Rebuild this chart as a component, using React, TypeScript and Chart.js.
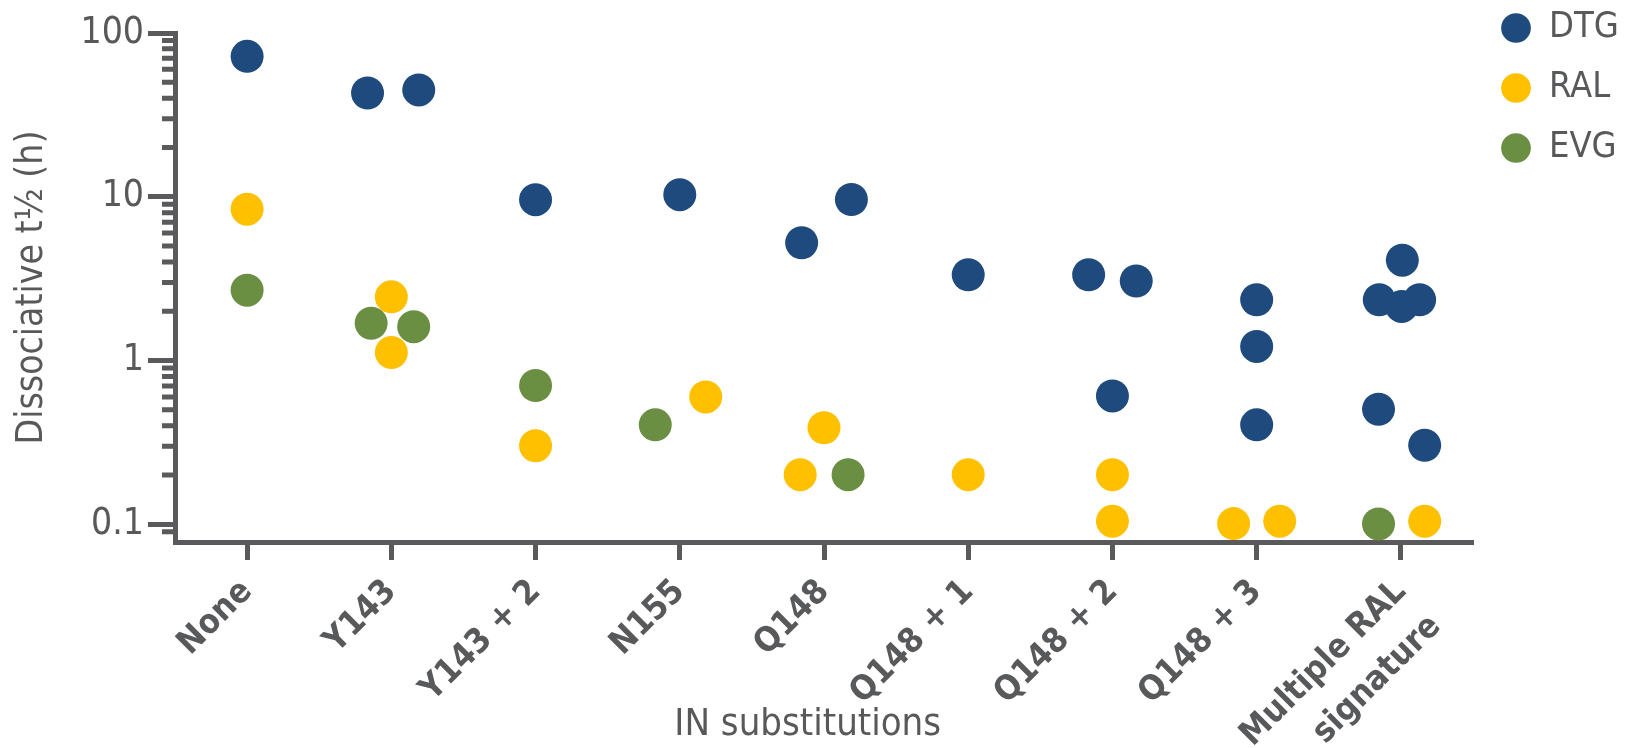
import React, { useEffect, useRef } from 'react';
import { Chart, registerables } from 'chart.js';

Chart.register(...registerables);

// ---------- data ----------
const categories: (string | string[])[] = [
  'None',
  'Y143',
  'Y143 + 2',
  'N155',
  'Q148',
  'Q148 + 1',
  'Q148 + 2',
  'Q148 + 3',
  ['Multiple RAL', 'signature'],
];

const yMajorTicks = [0.1, 1, 10, 100];
const yTickLabels = ['0.1', '1', '10', '100'];
const yMinorTicks = [
  0.09, 0.2, 0.3, 0.4, 0.5, 0.6, 0.7, 0.8, 0.9,
  2, 3, 4, 5, 6, 7, 8, 9,
  20, 30, 40, 50, 60, 70, 80, 90,
];

const seriesNames = ['DTG', 'RAL', 'EVG'];
const seriesColors = ['#1F4A7D', '#FFC000', '#6A8E42'];

// category index, horizontal jitter (in category units), dissociative t1/2 (h)
const dtgCategory = [0, 1, 1, 2, 3, 4, 4, 5, 6, 6, 6, 7, 7, 7, 8, 8, 8, 8, 8, 8];
const dtgOffset = [0, -0.165, 0.19, 0, 0, -0.155, 0.19, 0, -0.165, 0.165, 0, 0, 0, 0, 0.01, -0.15, 0.005, 0.13, -0.155, 0.165];
const dtgValues = [72, 43, 44.9, 9.6, 10.3, 5.24, 9.62, 3.34, 3.34, 3.06, 0.608, 2.35, 1.22, 0.405, 4.1, 2.35, 2.14, 2.35, 0.504, 0.304];

const ralCategory = [0, 1, 1, 2, 3, 4, 4, 5, 6, 6, 7, 7, 8];
const ralOffset = [0, 0, 0, 0, 0.18, 0, -0.165, 0, 0, 0, -0.16, 0.16, 0.165];
const ralValues = [8.4, 2.45, 1.12, 0.302, 0.6, 0.389, 0.201, 0.201, 0.201, 0.1045, 0.101, 0.1045, 0.1045];

const evgCategory = [0, 1, 1, 2, 3, 4, 8];
const evgOffset = [0, -0.14, 0.155, 0, -0.17, 0.167, -0.155];
const evgValues = [2.69, 1.69, 1.61, 0.704, 0.405, 0.201, 0.1006];

// ---------- style ----------
const FONT = "'Liberation Sans Narrow', 'DejaVu Sans Condensed', 'DejaVu Sans', sans-serif";
const TEXT = '#58595B';
const AXIS = '#5A5A5C';

const toPoints = (cats: number[], offs: number[], vals: number[]) =>
  cats.map((c, i) => ({ x: c + offs[i], y: vals[i] }));

const minorTicksPlugin = {
  id: 'minorTicks',
  afterDraw(chart: any) {
    const s = chart.scales.y;
    const ctx = chart.ctx;
    const left = chart.chartArea.left;
    ctx.save();
    ctx.strokeStyle = AXIS;
    ctx.lineWidth = 5;
    ctx.beginPath();
    yMinorTicks.forEach((v) => {
      const y = s.getPixelForValue(v);
      ctx.moveTo(left - 13, y);
      ctx.lineTo(left, y);
    });
    ctx.stroke();
    ctx.restore();
  },
};

const legendPlacePlugin = {
  id: 'legendPlace',
  afterLayout(chart: any) {
    const lg = chart.legend;
    if (!lg) return;
    const dx = 1477 - lg.left;
    const dy = -14 - lg.top;
    lg.left += dx;
    lg.right += dx;
    lg.top += dy;
    lg.bottom += dy;
  },
};

export default function App() {
  const ref = useRef<HTMLCanvasElement | null>(null);

  useEffect(() => {
    if (!ref.current) return;
    const sets = [
      toPoints(dtgCategory, dtgOffset, dtgValues),
      toPoints(ralCategory, ralOffset, ralValues),
      toPoints(evgCategory, evgOffset, evgValues),
    ];
    const chart = new Chart(ref.current, {
      type: 'scatter',
      data: {
        datasets: sets.map((d, i) => ({
          label: seriesNames[i],
          data: d,
          backgroundColor: seriesColors[i],
          borderColor: seriesColors[i],
          pointBackgroundColor: seriesColors[i],
          pointBorderWidth: 0,
          borderWidth: 0,
          pointRadius: 16.5,
          pointHoverRadius: 16.5,
          pointStyle: 'circle',
          clip: false,
        })),
      },
      options: {
        animation: false,
        responsive: true,
        maintainAspectRatio: false,
        events: [],
        layout: { padding: { top: 33, left: 0, right: 0, bottom: 0 } },
        plugins: {
          tooltip: { enabled: false },
          legend: {
            display: true,
            position: 'right',
            align: 'start',
            labels: {
              usePointStyle: true,
              pointStyle: 'circle',
              boxWidth: 30,
              boxHeight: 21,
              padding: 24,
              color: TEXT,
              font: { family: FONT, size: 36 },
            },
          },
        },
        scales: {
          x: {
            type: 'linear',
            min: -0.5,
            max: 8.5,
            afterBuildTicks: (s: any) => {
              s.ticks = categories.map((_, i) => ({ value: i }));
            },
            afterFit: (s: any) => {
              s.height = 206;
              s.paddingRight = 152;
            },
            ticks: {
              autoSkip: false,
              minRotation: 45,
              maxRotation: 45,
              padding: 9,
              color: TEXT,
              font: { family: FONT, size: 34, weight: 'bold', lineHeight: 1.45 },
              callback: (_v: any, i: number) => categories[i],
            },
            grid: {
              display: true,
              drawOnChartArea: false,
              drawTicks: true,
              tickLength: 18,
              tickWidth: 5,
              tickColor: AXIS,
            },
            border: { display: true, color: AXIS, width: 5 },
            title: {
              display: true,
              text: 'IN substitutions   ',
              color: TEXT,
              font: { family: FONT, size: 38 },
              padding: { top: 0, bottom: 0 },
            },
          },
          y: {
            type: 'logarithmic',
            min: 0.078,
            max: 100,
            position: 'left',
            afterBuildTicks: (s: any) => {
              s.ticks = yMajorTicks.map((v) => ({ value: v }));
            },
            afterFit: (s: any) => {
              s.width = 175;
            },
            ticks: {
              autoSkip: false,
              padding: 4,
              color: TEXT,
              font: { family: FONT, size: 37 },
              callback: (v: any) => {
                const k = yMajorTicks.indexOf(Number(v));
                return k >= 0 ? yTickLabels[k] : '';
              },
            },
            grid: {
              display: true,
              drawOnChartArea: false,
              drawTicks: true,
              tickLength: 27,
              tickWidth: 5,
              tickColor: AXIS,
            },
            border: { display: true, color: AXIS, width: 5 },
            title: {
              display: true,
              text: 'Dissociative t½ (h)',
              color: TEXT,
              font: { family: FONT, size: 37 },
              padding: { top: 10, bottom: 0 },
            },
          },
        },
      },
      plugins: [minorTicksPlugin, legendPlacePlugin],
    } as any);
    return () => chart.destroy();
  }, []);

  return (
    <div style={{ position: 'fixed', left: 0, top: 0, width: '1625px', height: '748px', background: '#fff' }}>
      <canvas ref={ref} />
    </div>
  );
}
